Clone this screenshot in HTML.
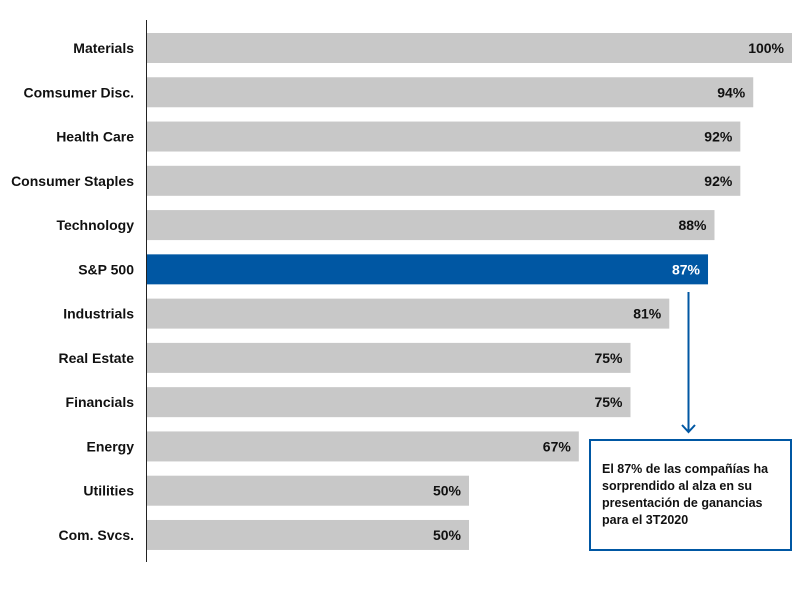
<!DOCTYPE html>
<html><head><meta charset="utf-8"><style>
body{margin:0;background:#fff;font-family:"Liberation Sans",sans-serif;}
svg text{font-family:"Liberation Sans",sans-serif;font-weight:bold;}
</style></head><body>
<svg width="800" height="585" viewBox="0 0 800 585">
<g id="bars"></g>
<line x1="146.5" y1="20" x2="146.5" y2="562" stroke="#222" stroke-width="1"/>
<line x1="688.5" y1="292" x2="688.5" y2="432" stroke="#0057a3" stroke-width="2"/>
<polyline points="682,425 688.5,432 695,425" fill="none" stroke="#0057a3" stroke-width="2"/>
<rect x="590" y="440" width="201" height="110" fill="#fff" stroke="#0057a3" stroke-width="2"/>
<text font-size="12.5" fill="#111">
<tspan x="602" y="473">El 87% de las compañías ha</tspan>
<tspan x="602" y="490">sorprendido al alza en su</tspan>
<tspan x="602" y="507">presentación de ganancias</tspan>
<tspan x="602" y="524">para el 3T2020</tspan>
</text>
</svg>
<script>
const categories=["Materials","Comsumer Disc.","Health Care","Consumer Staples","Technology","S&P 500","Industrials","Real Estate","Financials","Energy","Utilities","Com. Svcs."];
const values=[100,94,92,92,88,87,81,75,75,67,50,50];
const highlight="S&P 500";
const x0=146,xScale=v=>x0+v*6.46;
const yCenter=i=>48+i*44.27;
const g=document.getElementById('bars');
const NS="http://www.w3.org/2000/svg";
categories.forEach((c,i)=>{
 const yc=yCenter(i);
 const r=document.createElementNS(NS,'rect');
 r.setAttribute('x',x0+1);r.setAttribute('y',yc-15);
 r.setAttribute('width',xScale(values[i])-x0-1);r.setAttribute('height',30);
 r.setAttribute('fill',c===highlight?'#0057a3':'#c8c8c8');
 
 
 g.appendChild(r);
 const l=document.createElementNS(NS,'text');
 l.setAttribute('x',134);l.setAttribute('y',yc+5);l.setAttribute('text-anchor','end');
 l.setAttribute('font-size','14');l.setAttribute('fill','#111');
 l.textContent=c;
 
 
 g.appendChild(l);
 const v=document.createElementNS(NS,'text');
 v.setAttribute('x',xScale(values[i])-8);v.setAttribute('y',yc+5);v.setAttribute('text-anchor','end');
 v.setAttribute('font-size','14');v.setAttribute('fill',c===highlight?'#fff':'#111');
 v.textContent=values[i]+'%';
 
 
 g.appendChild(v);
});
</script>
</body></html>
